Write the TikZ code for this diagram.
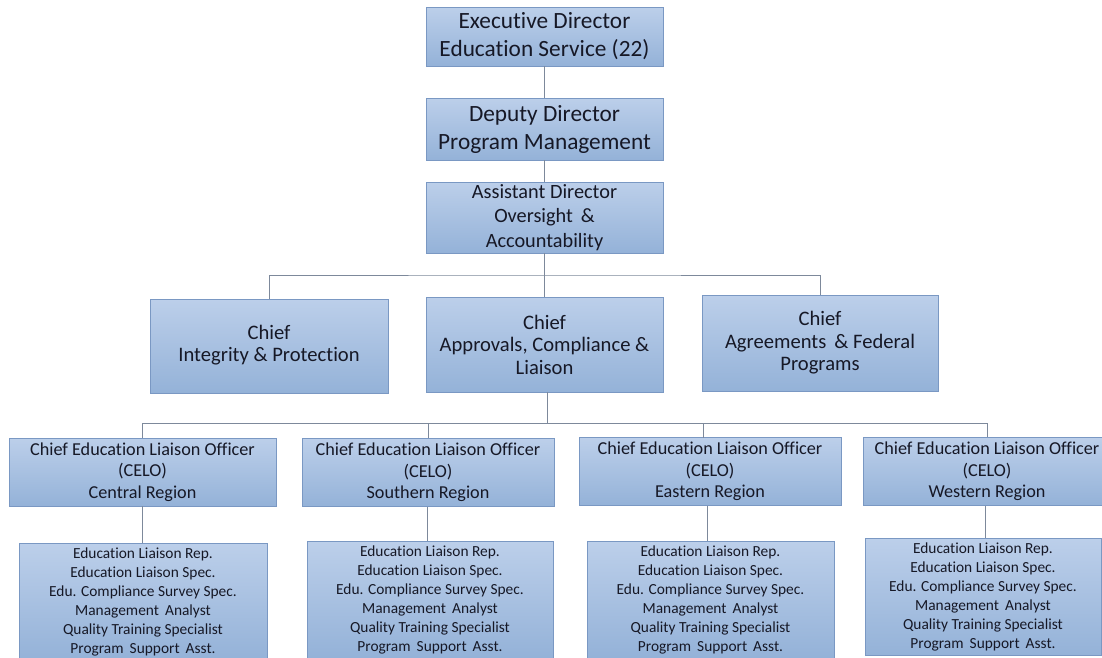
\documentclass[tikz,border=0pt]{standalone}
\usepackage{fontspec}
\setmainfont[Ligatures={NoCommon}]{Carlito}
\begin{document}
\begin{tikzpicture}[x=1pt,y=-1pt,
  orgbox/.style={draw=boxline, line width=0.8pt, top color=boxtop, bottom color=boxbot,
    inner sep=0pt, align=center, text=txt},
  conn/.style={draw=linec, line width=1pt}]
\definecolor{boxtop}{RGB}{188,207,234}
\definecolor{boxbot}{RGB}{148,178,216}
\definecolor{boxline}{RGB}{122,152,195}
\definecolor{txt}{RGB}{22,24,38}
\definecolor{linec}{RGB}{125,137,155}
\useasboundingbox (0,0) rectangle (1102,657);
\fill[white] (0,0) rectangle (1102,657);

% top chain
\node[orgbox, minimum width=237pt, minimum height=59pt, font=\fontsize{23.3}{28}\selectfont] (exec) at (544.5,36.5) {Executive Director\\Education Service (22)};
\node[orgbox, minimum width=237pt, minimum height=62pt, font=\fontsize{23.3}{28}\selectfont] (dep) at (544.5,129) {Deputy Director\\Program Management};
\node[orgbox, minimum width=237pt, minimum height=71pt, font=\fontsize{20.3}{24.5}\selectfont] (asst) at (544.5,217.5) {Assistant Director\\Oversight \,\&\\Accountability};

% chiefs
\node[orgbox, minimum width=238pt, minimum height=94pt, font=\fontsize{20.6}{22.5}\selectfont] (chI) at (269,346) {\raisebox{-3pt}{\begin{tabular}{@{}c@{}}Chief\\Integrity \& Protection\end{tabular}}};
\node[orgbox, minimum width=237pt, minimum height=95pt, font=\fontsize{20.6}{22.5}\selectfont] (chA) at (544.5,344.5) {Chief\\Approvals, Compliance \&\\Liaison};
\node[orgbox, minimum width=236pt, minimum height=96pt, font=\fontsize{20.6}{22.5}\selectfont] (chG) at (820,343) {Chief\\Agreements \,\& Federal\\Programs};

% CELOs
\tikzset{celo/.style={orgbox, minimum height=68pt, font=\fontsize{18.2}{21.5}\selectfont}}
\node[celo, minimum width=267pt] (c1) at (142.5,472) {Chief Education Liaison Officer\\(CELO)\\Central Region};
\node[celo, minimum width=252pt] (c2) at (428,472.5) {Chief Education Liaison Officer\\(CELO)\\Southern Region};
\node[celo, minimum width=262pt] (c3) at (710,471.5) {Chief Education Liaison Officer\\(CELO)\\Eastern Region};
\node[celo, minimum width=248pt] (c4) at (987,471.5) {Chief Education Liaison Officer\\(CELO)\\Western Region};

% staff boxes
\tikzset{staff/.style={orgbox, minimum height=117pt, font=\fontsize{15.4}{19}\selectfont}}
\newcommand{\stafftext}{Education Liaison Rep.\\Education Liaison Spec.\\Edu. Compliance Survey Spec.\\Management \,Analyst\\Quality Training Specialist\\Program \,Support \,Asst.}
\node[staff, minimum width=248pt] (s1) at (143,601.5) {\stafftext};
\node[staff, minimum width=246pt] (s2) at (430,599.5) {\stafftext};
\node[staff, minimum width=247pt] (s3) at (710.5,599.5) {\stafftext};
\node[staff, minimum width=236pt] (s4) at (983,597) {\stafftext};

% connectors
\coordinate (bus1) at (544.5,275);
\coordinate (bus2) at (547,423);
\draw[conn] (exec.south) -- (dep.north);
\draw[conn] (dep.south) -- (asst.north);
\draw[conn] (asst.south) -- (chA.north);
\draw[conn] (chI.north) |- (bus1) -| (chG.north);
\draw[conn] (chA.south -| bus2) -- (bus2);
\draw[conn] (c1.north) |- (bus2) -| (c4.north);
\draw[conn] (c2.north) -- (c2.north |- bus2);
\coordinate (c3top) at (703,437.5);
\draw[conn] (c3top) -- (c3top |- bus2);
\draw[conn] (c1.south) -- (s1.north -| c1.south);
\coordinate (c2bot) at (427,507);
\draw[conn] (c2bot) -- (c2bot |- s2.north);
\coordinate (c3bot) at (707,505.5);
\draw[conn] (c3bot) -- (c3bot |- s3.north);
\coordinate (c4bot) at (985,505.5);
\draw[conn] (c4bot) -- (c4bot |- s4.north);
\end{tikzpicture}
\end{document}
